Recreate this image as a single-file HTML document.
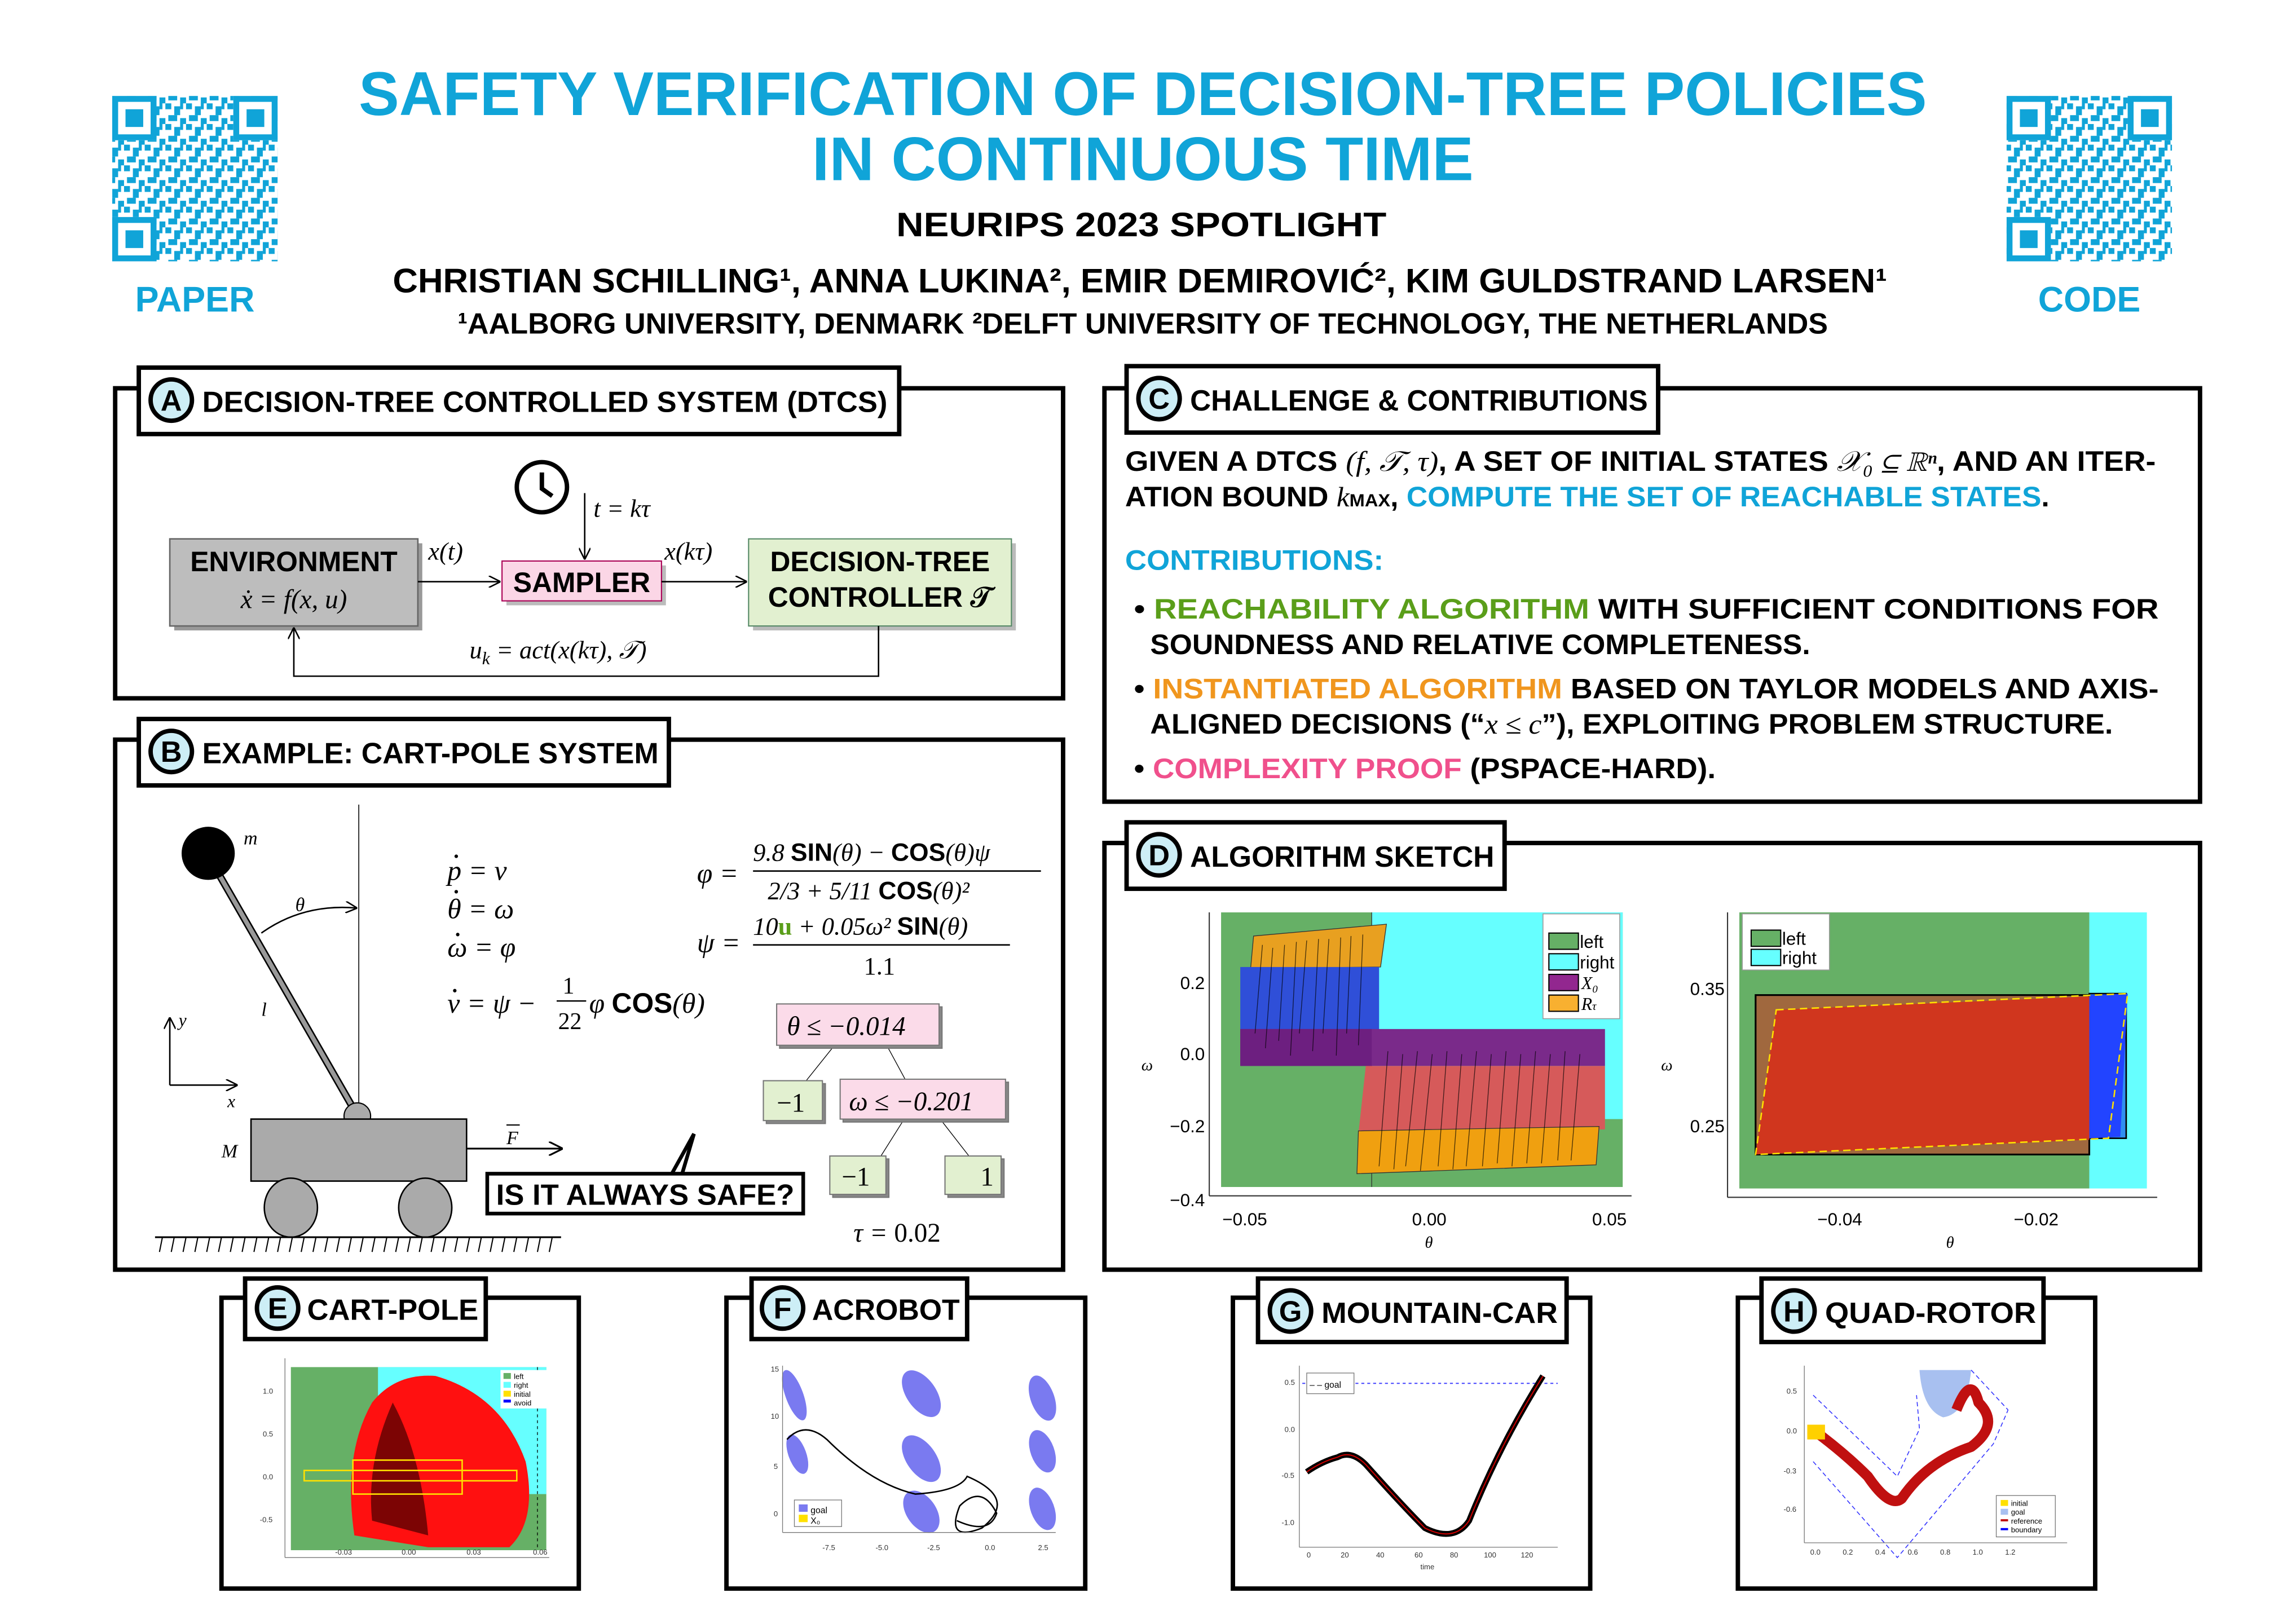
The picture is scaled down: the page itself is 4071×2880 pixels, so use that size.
<!DOCTYPE html>
<html><head><meta charset="utf-8">
<style>
html,body{margin:0;padding:0;background:#fff;}
svg{display:block;}
.c{font-family:"Liberation Sans Narrow","Liberation Sans",sans-serif;font-weight:bold;}
.m{font-family:"Liberation Serif",serif;font-style:italic;}
.s{font-family:"Liberation Sans",sans-serif;}
</style></head>
<body>
<svg width="4071" height="2880" viewBox="0 0 1555 1100" preserveAspectRatio="none" xmlns="http://www.w3.org/2000/svg">
<defs>
<pattern id="qr" x="0" y="0" width="14" height="14" patternUnits="userSpaceOnUse">
<rect x="0" y="0" width="4" height="4" fill="#10a4d8"/><rect x="6" y="2" width="4" height="6" fill="#10a4d8"/>
<rect x="2" y="8" width="6" height="4" fill="#10a4d8"/><rect x="10" y="10" width="4" height="4" fill="#10a4d8"/>
<rect x="10" y="0" width="2" height="4" fill="#10a4d8"/>
</pattern>
<marker id="ar" markerWidth="8" markerHeight="8" refX="7" refY="4" orient="auto"><path d="M0,0 L8,4 L0,8" fill="none" stroke="#000" stroke-width="1"/></marker>
</defs>
<rect width="1555" height="1100" fill="#fff"/>

<!-- QR codes -->
<g>
<rect x="76" y="65" width="112" height="112" fill="url(#qr)"/>
<rect x="76" y="65" width="30" height="30" fill="#fff"/><rect x="78" y="67" width="26" height="26" fill="none" stroke="#10a4d8" stroke-width="4"/><rect x="85" y="74" width="12" height="12" fill="#10a4d8"/>
<rect x="158" y="65" width="30" height="30" fill="#fff"/><rect x="160" y="67" width="26" height="26" fill="none" stroke="#10a4d8" stroke-width="4"/><rect x="167" y="74" width="12" height="12" fill="#10a4d8"/>
<rect x="76" y="147" width="30" height="30" fill="#fff"/><rect x="78" y="149" width="26" height="26" fill="none" stroke="#10a4d8" stroke-width="4"/><rect x="85" y="156" width="12" height="12" fill="#10a4d8"/>
</g>
<g>
<rect x="1359" y="65" width="112" height="112" fill="url(#qr)"/>
<rect x="1359" y="65" width="30" height="30" fill="#fff"/><rect x="1361" y="67" width="26" height="26" fill="none" stroke="#10a4d8" stroke-width="4"/><rect x="1368" y="74" width="12" height="12" fill="#10a4d8"/>
<rect x="1441" y="65" width="30" height="30" fill="#fff"/><rect x="1443" y="67" width="26" height="26" fill="none" stroke="#10a4d8" stroke-width="4"/><rect x="1450" y="74" width="12" height="12" fill="#10a4d8"/>
<rect x="1359" y="147" width="30" height="30" fill="#fff"/><rect x="1361" y="149" width="26" height="26" fill="none" stroke="#10a4d8" stroke-width="4"/><rect x="1368" y="156" width="12" height="12" fill="#10a4d8"/>
</g>
<text class="c" x="132" y="211" font-size="24" fill="#10a4d8" text-anchor="middle">PAPER</text>
<text class="c" x="1415" y="211" font-size="24" fill="#10a4d8" text-anchor="middle">CODE</text>

<!-- Title -->
<text class="c" x="243" y="78" font-size="42" fill="#10a4d8" textLength="1062" lengthAdjust="spacingAndGlyphs">SAFETY VERIFICATION OF DECISION-TREE POLICIES</text>
<text class="c" x="550" y="122" font-size="42" fill="#10a4d8" textLength="448" lengthAdjust="spacingAndGlyphs">IN CONTINUOUS TIME</text>
<text class="c" x="773" y="160" font-size="23" fill="#000" text-anchor="middle" textLength="332" lengthAdjust="spacingAndGlyphs">NEURIPS 2023 SPOTLIGHT</text>
<text class="c" x="266" y="198" font-size="23" fill="#000" textLength="1012" lengthAdjust="spacingAndGlyphs">CHRISTIAN SCHILLING¹, ANNA LUKINA², EMIR DEMIROVIĆ², KIM GULDSTRAND LARSEN¹</text>
<text class="c" x="310" y="226" font-size="20" fill="#000" textLength="928" lengthAdjust="spacingAndGlyphs">¹AALBORG UNIVERSITY, DENMARK    ²DELFT UNIVERSITY OF TECHNOLOGY, THE NETHERLANDS</text>

<!-- Panel boxes -->
<g fill="none" stroke="#000" stroke-width="3">
<rect x="78" y="263" width="642" height="210"/>
<rect x="78" y="501" width="642" height="359"/>
<rect x="748" y="263" width="742" height="280"/>
<rect x="748" y="571" width="742" height="289"/>
<rect x="150" y="879" width="242" height="197"/>
<rect x="492" y="879" width="243" height="197"/>
<rect x="835" y="879" width="242" height="197"/>
<rect x="1177" y="879" width="242" height="197"/>
</g>
<!-- tabs -->
<g fill="#fff" stroke="#000" stroke-width="3">
<rect x="94" y="249" width="515" height="45"/>
<rect x="94" y="487" width="359" height="45"/>
<rect x="763" y="248" width="360" height="45"/>
<rect x="763" y="557" width="256" height="45"/>
<rect x="166" y="866" width="163" height="41"/>
<rect x="509" y="866" width="146" height="41"/>
<rect x="852" y="866" width="209" height="43"/>
<rect x="1193" y="866" width="191" height="43"/>
</g>
<g fill="#cdeef6" stroke="#000" stroke-width="3">
<circle cx="116" cy="271" r="14"/><circle cx="116" cy="509" r="14"/><circle cx="785" cy="270" r="14"/><circle cx="785" cy="579" r="14"/>
<circle cx="188" cy="886" r="14"/><circle cx="530" cy="886" r="14"/><circle cx="874" cy="888" r="14"/><circle cx="1215" cy="888" r="14"/>
</g>
<g class="c" font-size="20" fill="#000">
<text x="116" y="278" text-anchor="middle">A</text><text x="116" y="516" text-anchor="middle">B</text>
<text x="785" y="277" text-anchor="middle">C</text><text x="785" y="586" text-anchor="middle">D</text>
<text x="188" y="893" text-anchor="middle">E</text><text x="530" y="893" text-anchor="middle">F</text>
<text x="874" y="895" text-anchor="middle">G</text><text x="1215" y="895" text-anchor="middle">H</text>
<text x="137" y="279" textLength="464" lengthAdjust="spacingAndGlyphs">DECISION-TREE CONTROLLED SYSTEM (DTCS)</text>
<text x="137" y="517" textLength="309" lengthAdjust="spacingAndGlyphs">EXAMPLE: CART-POLE SYSTEM</text>
<text x="806" y="278" textLength="310" lengthAdjust="spacingAndGlyphs">CHALLENGE &amp; CONTRIBUTIONS</text>
<text x="806" y="587" textLength="206" lengthAdjust="spacingAndGlyphs">ALGORITHM SKETCH</text>
<text x="208" y="894" textLength="116" lengthAdjust="spacingAndGlyphs">CART-POLE</text>
<text x="550" y="894" textLength="100" lengthAdjust="spacingAndGlyphs">ACROBOT</text>
<text x="895" y="896" textLength="160" lengthAdjust="spacingAndGlyphs">MOUNTAIN-CAR</text>
<text x="1236" y="896" textLength="143" lengthAdjust="spacingAndGlyphs">QUAD-ROTOR</text>
</g>

<!-- Panel A -->
<circle cx="367" cy="330" r="17" fill="#fff" stroke="#000" stroke-width="3"/>
<path d="M367,320 L367,331 L374,336" fill="none" stroke="#000" stroke-width="3"/>
<line x1="396" y1="334" x2="396" y2="378" stroke="#000" stroke-width="1" marker-end="url(#ar)"/>
<text class="m" x="402" y="350" font-size="17">t = kτ</text>
<rect x="118" y="368" width="168" height="59" fill="#999"/>
<rect x="115" y="365" width="168" height="59" fill="#bdbdbd" stroke="#666" stroke-width="1"/>
<text class="c" x="199" y="387" font-size="19" text-anchor="middle">ENVIRONMENT</text>
<text class="m" x="199" y="412" font-size="18" text-anchor="middle">ẋ = f(x, u)</text>
<rect x="343" y="383" width="108" height="27" fill="#bbb"/>
<rect x="340" y="380" width="108" height="27" fill="#fbd6e6" stroke="#a05" stroke-width="0.8"/>
<text class="c" x="394" y="401" font-size="19" text-anchor="middle">SAMPLER</text>
<rect x="510" y="368" width="178" height="59" fill="#bbb"/>
<rect x="507" y="365" width="178" height="59" fill="#e2f0d0" stroke="#586" stroke-width="0.8"/>
<text class="c" x="596" y="387" font-size="19" text-anchor="middle">DECISION-TREE</text>
<text class="c" x="596" y="411" font-size="19" text-anchor="middle">CONTROLLER 𝒯</text>
<line x1="283" y1="394" x2="338" y2="394" stroke="#000" stroke-width="1" marker-end="url(#ar)"/>
<line x1="448" y1="394" x2="505" y2="394" stroke="#000" stroke-width="1" marker-end="url(#ar)"/>
<text class="m" x="290" y="379" font-size="17">x(t)</text>
<text class="m" x="450" y="379" font-size="17">x(kτ)</text>
<path d="M595,424 L595,458 L199,458 L199,426" fill="none" stroke="#000" stroke-width="1" marker-end="url(#ar)"/>
<text class="m" x="318" y="446" font-size="17">u<tspan font-size="12" dy="4">k</tspan><tspan dy="-4"> = act(x(kτ), 𝒯)</tspan></text>

<!-- Panel B -->
<line x1="243" y1="545" x2="243" y2="760" stroke="#000" stroke-width="0.6"/>
<line x1="147" y1="590" x2="240" y2="752" stroke="#000" stroke-width="5"/>
<line x1="147" y1="590" x2="240" y2="752" stroke="#999" stroke-width="3"/>
<circle cx="141" cy="578" r="18" fill="#000"/>
<text class="m" x="165" y="572" font-size="13">m</text>
<path d="M177,632 Q205,612 241,615" fill="none" stroke="#000" stroke-width="1" marker-end="url(#ar)"/>
<text class="m" x="200" y="617" font-size="13">θ</text>
<text class="m" x="177" y="688" font-size="13">l</text>
<ellipse cx="242" cy="756" rx="9" ry="9" fill="#aaa" stroke="#000" stroke-width="0.8"/>
<rect x="170" y="758" width="146" height="42" fill="#aaa" stroke="#000" stroke-width="1"/>
<ellipse cx="197" cy="818" rx="18" ry="20" fill="#aaa" stroke="#000" stroke-width="1"/>
<ellipse cx="288" cy="818" rx="18" ry="20" fill="#aaa" stroke="#000" stroke-width="1"/>
<text class="m" x="150" y="784" font-size="13">M</text>
<line x1="316" y1="778" x2="380" y2="778" stroke="#000" stroke-width="1.2" marker-end="url(#ar)"/>
<text class="m" x="343" y="775" font-size="13">F</text><line x1="343" y1="762" x2="352" y2="762" stroke="#000" stroke-width="0.8"/>
<line x1="105" y1="838" x2="380" y2="838" stroke="#000" stroke-width="1.2"/>
<path d="M108,848 L110,838 M116,848 L118,838 M124,848 L126,838 M132,848 L134,838 M140,848 L142,838 M148,848 L150,838 M156,848 L158,838 M164,848 L166,838 M172,848 L174,838 M180,848 L182,838 M188,848 L190,838 M196,848 L198,838 M204,848 L206,838 M212,848 L214,838 M220,848 L222,838 M228,848 L230,838 M236,848 L238,838 M244,848 L246,838 M252,848 L254,838 M260,848 L262,838 M268,848 L270,838 M276,848 L278,838 M284,848 L286,838 M292,848 L294,838 M300,848 L302,838 M308,848 L310,838 M316,848 L318,838 M324,848 L326,838 M332,848 L334,838 M340,848 L342,838 M348,848 L350,838 M356,848 L358,838 M364,848 L366,838 M372,848 L374,838" stroke="#000" stroke-width="0.8"/>
<line x1="115" y1="735" x2="115" y2="690" stroke="#000" stroke-width="1" marker-end="url(#ar)"/>
<line x1="115" y1="735" x2="160" y2="735" stroke="#000" stroke-width="1" marker-end="url(#ar)"/>
<text class="m" x="121" y="695" font-size="12">y</text><text class="m" x="154" y="750" font-size="12">x</text>
<g class="m" font-size="19">
<text x="303" y="596">p = v</text><circle cx="309" cy="580" r="1.2"/>
<text x="303" y="622">θ = ω</text><circle cx="309" cy="604" r="1.2"/>
<text x="303" y="648">ω = φ</text><circle cx="310" cy="633" r="1.2"/>
<text x="303" y="686">v = ψ −</text><circle cx="308" cy="671" r="1.2"/>
<text x="381" y="673" font-size="16" font-style="normal">1</text><line x1="377" y1="678" x2="397" y2="678" stroke="#000"/><text x="378" y="697" font-size="16" font-style="normal">22</text>
<text x="399" y="686">φ <tspan class="c" font-style="normal">COS</tspan>(θ)</text>
<text x="472" y="598">φ =</text>
<text x="510" y="583" font-size="17">9.8 <tspan class="c" font-style="normal">SIN</tspan>(θ) − <tspan class="c" font-style="normal">COS</tspan>(θ)ψ</text>
<line x1="510" y1="590" x2="705" y2="590" stroke="#000"/>
<text x="520" y="609" font-size="17">2/3 + 5/11 <tspan class="c" font-style="normal">COS</tspan>(θ)²</text>
<text x="472" y="645">ψ =</text>
<text x="510" y="633" font-size="17">10<tspan fill="#5a9e1a" font-weight="bold" font-style="normal">u</tspan> + 0.05ω² <tspan class="c" font-style="normal">SIN</tspan>(θ)</text>
<line x1="510" y1="640" x2="684" y2="640" stroke="#000"/>
<text x="585" y="660" font-size="17" font-style="normal">1.1</text>
</g>
<g stroke="#000" stroke-width="0.5"><line x1="566" y1="707" x2="546" y2="732"/><line x1="600" y1="707" x2="613" y2="731"/><line x1="613" y1="757" x2="596" y2="784"/><line x1="636" y1="757" x2="657" y2="784"/></g>
<g stroke="#777" stroke-width="0.8">
<rect x="528" y="682" width="110" height="28" fill="#888"/><rect x="526" y="680" width="110" height="28" fill="#fbdbe9"/>
<rect x="519" y="734" width="40" height="27" fill="#888"/><rect x="517" y="732" width="40" height="27" fill="#e2f0d0"/>
<rect x="571" y="733" width="112" height="27" fill="#888"/><rect x="569" y="731" width="112" height="27" fill="#fbdbe9"/>
<rect x="564" y="785" width="38" height="26" fill="#888"/><rect x="562" y="783" width="38" height="26" fill="#e2f0d0"/>
<rect x="642" y="785" width="38" height="26" fill="#888"/><rect x="640" y="783" width="38" height="26" fill="#e2f0d0"/>
</g>
<g class="m" font-size="18">
<text x="533" y="701">θ ≤ −0.014</text><text x="526" y="753" font-style="normal">−1</text>
<text x="575" y="752">ω ≤ −0.201</text><text x="570" y="803" font-style="normal">−1</text><text x="664" y="803" font-style="normal">1</text>
<text x="578" y="841">τ = <tspan font-style="normal">0.02</tspan></text>
</g>
<path d="M455,795 L470,768 L462,795" fill="#fff" stroke="#000" stroke-width="2.5"/>
<rect x="330" y="795" width="214" height="27" fill="#fff" stroke="#000" stroke-width="2.5"/>
<text class="c" x="437" y="816" font-size="20" text-anchor="middle" textLength="202" lengthAdjust="spacingAndGlyphs">IS IT ALWAYS SAFE?</text>

<!-- Panel C -->
<g class="c" font-size="19">
<text x="762" y="319" textLength="698" lengthAdjust="spacingAndGlyphs">GIVEN A DTCS <tspan class="m" font-weight="normal">(f, 𝒯, τ)</tspan>, A SET OF INITIAL STATES <tspan class="m" font-weight="normal">𝒳₀ ⊆ ℝⁿ</tspan>, AND AN ITER-</text>
<text x="762" y="343" textLength="626" lengthAdjust="spacingAndGlyphs">ATION BOUND <tspan class="m" font-weight="normal">k</tspan><tspan font-size="12">MAX</tspan>, <tspan fill="#10a4d8">COMPUTE THE SET OF REACHABLE STATES</tspan>.</text>
<text x="762" y="386" fill="#10a4d8" textLength="175" lengthAdjust="spacingAndGlyphs">CONTRIBUTIONS:</text>
<text x="768" y="419" textLength="694" lengthAdjust="spacingAndGlyphs">• <tspan fill="#5a9e1a">REACHABILITY  ALGORITHM</tspan>  WITH  SUFFICIENT  CONDITIONS  FOR</text>
<text x="779" y="443" textLength="447" lengthAdjust="spacingAndGlyphs">SOUNDNESS AND RELATIVE COMPLETENESS.</text>
<text x="768" y="473" textLength="694" lengthAdjust="spacingAndGlyphs">• <tspan fill="#f0961e">INSTANTIATED ALGORITHM</tspan> BASED ON TAYLOR MODELS AND AXIS-</text>
<text x="779" y="497" textLength="652" lengthAdjust="spacingAndGlyphs">ALIGNED DECISIONS (“<tspan class="m" font-weight="normal">x ≤ c</tspan>”), EXPLOITING PROBLEM STRUCTURE.</text>
<text x="768" y="527" textLength="394" lengthAdjust="spacingAndGlyphs">• <tspan fill="#f0508c">COMPLEXITY PROOF</tspan> (PSPACE-HARD).</text>
</g>

<!-- Panel D left plot -->
<rect x="827" y="618" width="272" height="186" fill="#66b066"/>
<rect x="929" y="618" width="170" height="140" fill="#66ffff"/>
<line x1="929" y1="618" x2="929" y2="804" stroke="#333" stroke-width="0.5"/>
<polygon points="849,634 939,626 935,655 847,656" fill="#e8a020" stroke="#333" stroke-width="0.5"/>
<rect x="840" y="655" width="94" height="43" fill="#2f4fd8"/>
<rect x="840" y="697" width="247" height="25" fill="#7a2a8a"/>
<polygon points="840,697 929,697 929,722 840,722" fill="#6d1f80"/>
<polygon points="925,722 1087,722 1087,765 920,768" fill="#d65a5a"/>
<polygon points="920,766 1083,763 1081,789 919,795" fill="#f0a010" stroke="#333" stroke-width="0.5"/>
<g stroke="#000" stroke-width="0.5" opacity="0.7">
<path d="M855,640 L850,700 M862,642 L857,710 M870,640 L866,705 M878,638 L874,715 M885,637 L880,700 M893,636 L889,712 M900,636 L896,700 M908,635 L905,715 M915,634 L912,700 M923,633 L920,708"/>
<path d="M940,712 L934,790 M950,714 L944,792 M960,712 L952,790 M970,714 L962,793 M980,712 L974,790 M990,714 L984,792 M1000,712 L993,790 M1010,714 L1004,790 M1020,712 L1014,788 M1030,714 L1024,790 M1040,712 L1034,788 M1050,714 L1044,788 M1060,712 L1055,786 M1070,714 L1064,786"/>
</g>
<rect x="1045" y="619" width="52" height="71" fill="#fff" stroke="#999" stroke-width="0.6"/>
<g stroke="#000" stroke-width="0.8"><rect x="1049" y="632" width="20" height="11" fill="#66b066"/><rect x="1049" y="646" width="20" height="11" fill="#66ffff"/><rect x="1049" y="660" width="20" height="11" fill="#92278f"/><rect x="1049" y="674" width="20" height="11" fill="#f8b030"/></g>
<g class="s" font-size="12"><text x="1070" y="642">left</text><text x="1070" y="656">right</text><text class="m" x="1071" y="670">X₀</text><text class="m" x="1071" y="684">R<tspan font-size="8">τ</tspan></text></g>
<line x1="819" y1="618" x2="819" y2="810" stroke="#333" stroke-width="0.8"/>
<line x1="819" y1="810" x2="1105" y2="810" stroke="#333" stroke-width="0.8"/>
<g class="s" font-size="12" text-anchor="end"><text x="816" y="670">0.2</text><text x="816" y="718">0.0</text><text x="816" y="767">−0.2</text><text x="816" y="817">−0.4</text></g>
<g class="s" font-size="12" text-anchor="middle"><text x="843" y="830">−0.05</text><text x="968" y="830">0.00</text><text x="1090" y="830">0.05</text></g>
<text class="m" x="773" y="725" font-size="11">ω</text><text class="m" x="965" y="845" font-size="11">θ</text>

<!-- Panel D right plot -->
<rect x="1178" y="618" width="237" height="187" fill="#66b066"/>
<rect x="1415" y="618" width="39" height="187" fill="#66ffff"/>
<rect x="1189" y="674" width="226" height="108" fill="#a0683e" stroke="#000" stroke-width="1.2"/>
<rect x="1415" y="673" width="25" height="98" fill="#3090f0" stroke="#000" stroke-width="1"/>
<polygon points="1415,674 1441,673 1436,770 1415,771" fill="#2244ff"/>
<polygon points="1203,684 1415,675 1415,772 1189,782" fill="#d0361e"/>
<polygon points="1203,684 1441,673 1428,771 1189,782" fill="none" stroke="#ffe000" stroke-width="1" stroke-dasharray="5,3"/>
<rect x="1180" y="619" width="59" height="38" fill="#fff" stroke="#999" stroke-width="0.6"/>
<g stroke="#000" stroke-width="0.8"><rect x="1186" y="630" width="20" height="11" fill="#66b066"/><rect x="1186" y="643" width="20" height="11" fill="#66ffff"/></g>
<g class="s" font-size="12"><text x="1207" y="640">left</text><text x="1207" y="653">right</text></g>
<line x1="1170" y1="618" x2="1170" y2="811" stroke="#333" stroke-width="0.8"/>
<line x1="1170" y1="811" x2="1461" y2="811" stroke="#333" stroke-width="0.8"/>
<g class="s" font-size="12" text-anchor="end"><text x="1168" y="674">0.35</text><text x="1168" y="767">0.25</text></g>
<g class="s" font-size="12" text-anchor="middle"><text x="1246" y="830">−0.04</text><text x="1379" y="830">−0.02</text></g>
<text class="m" x="1125" y="725" font-size="11">ω</text><text class="m" x="1318" y="845" font-size="11">θ</text>

<!-- E Cart-pole -->
<rect x="197" y="926" width="173" height="124" fill="#66b066"/>
<rect x="256" y="926" width="114" height="86" fill="#66ffff"/>
<path d="M240,1040 Q232,985 252,950 Q268,930 295,932 Q340,945 356,990 Q364,1030 345,1048 L290,1048 Z" fill="#ff1010"/>
<path d="M252,1030 Q248,990 266,950 Q285,985 290,1040 Z" fill="#400" opacity="0.7"/>
<rect x="206" y="996" width="144" height="7" fill="none" stroke="#ffe000" stroke-width="1"/>
<rect x="239" y="989" width="74" height="23" fill="none" stroke="#ffe000" stroke-width="1"/>
<line x1="364" y1="926" x2="364" y2="1050" stroke="#000" stroke-width="0.5" stroke-dasharray="2,2"/>
<rect x="339" y="928" width="33" height="26" fill="#fff"/>
<g font-size="5" class="s"><rect x="341" y="930" width="5" height="4" fill="#66b066"/><text x="348" y="934">left</text><rect x="341" y="936" width="5" height="4" fill="#66ffff"/><text x="348" y="940">right</text><rect x="341" y="942" width="5" height="4" fill="#ffe000"/><text x="348" y="946">initial</text><rect x="341" y="948" width="5" height="2" fill="#00f"/><text x="348" y="952">avoid</text></g>
<line x1="193" y1="920" x2="193" y2="1055" stroke="#777" stroke-width="0.5"/><line x1="193" y1="1055" x2="372" y2="1055" stroke="#777" stroke-width="0.5"/>
<g class="s" font-size="5" fill="#333"><text x="178" y="944">1.0</text><text x="178" y="973">0.5</text><text x="178" y="1002">0.0</text><text x="176" y="1031">-0.5</text><text x="227" y="1053" dy="0">-0.03</text><text x="272" y="1053">0.00</text><text x="316" y="1053">0.03</text><text x="361" y="1053">0.06</text></g>

<!-- F Acrobot -->
<g fill="#7a7af0">
<ellipse cx="538" cy="945" rx="6" ry="18" transform="rotate(-20 538 945)"/><ellipse cx="624" cy="944" rx="10" ry="18" transform="rotate(-35 624 944)"/><ellipse cx="706" cy="947" rx="8" ry="16" transform="rotate(-20 706 947)"/>
<ellipse cx="540" cy="985" rx="6" ry="14" transform="rotate(-20 540 985)"/><ellipse cx="624" cy="988" rx="10" ry="18" transform="rotate(-35 624 988)"/><ellipse cx="706" cy="983" rx="8" ry="15" transform="rotate(-20 706 983)"/>
<ellipse cx="624" cy="1024" rx="10" ry="16" transform="rotate(-35 624 1024)"/><ellipse cx="706" cy="1022" rx="8" ry="15" transform="rotate(-20 706 1022)"/>
</g>
<path d="M533,975 Q545,962 560,975 Q590,1005 620,1012 Q650,1010 655,1000 Q690,1015 665,1035 Q640,1045 650,1020 Q665,1005 675,1025 Q670,1040 648,1030" fill="none" stroke="#000" stroke-width="1"/>
<rect x="538" y="1016" width="32" height="18" fill="#fff" stroke="#777" stroke-width="0.5"/>
<rect x="541" y="1019" width="6" height="5" fill="#7a7af0"/><rect x="541" y="1026" width="6" height="5" fill="#ffe000"/>
<g class="s" font-size="6"><text x="549" y="1025">goal</text><text x="549" y="1032">X₀</text></g>
<line x1="530" y1="925" x2="530" y2="1038" stroke="#777" stroke-width="0.5"/><line x1="530" y1="1038" x2="715" y2="1038" stroke="#777" stroke-width="0.5"/>
<g class="s" font-size="5" fill="#333"><text x="522" y="929">15</text><text x="522" y="961">10</text><text x="524" y="995">5</text><text x="524" y="1027">0</text><text x="557" y="1050">-7.5</text><text x="593" y="1050">-5.0</text><text x="628" y="1050">-2.5</text><text x="667" y="1050">0.0</text><text x="703" y="1050">2.5</text></g>

<!-- G Mountain car -->
<line x1="882" y1="937" x2="1055" y2="937" stroke="#44f" stroke-width="0.8" stroke-dasharray="2,2"/>
<path d="M885,997 Q895,990 906,987 Q915,982 925,992 Q950,1020 965,1035 Q985,1045 995,1030 Q1015,980 1045,932" fill="none" stroke="#000" stroke-width="4"/>
<path d="M885,997 Q895,990 906,987 Q915,982 925,992 Q950,1020 965,1035 Q985,1045 995,1030 Q1015,980 1045,932" fill="none" stroke="#c00" stroke-width="0.8"/>
<rect x="885" y="930" width="32" height="14" fill="#fff" stroke="#777" stroke-width="0.5"/>
<g class="s" font-size="6"><text x="887" y="940">– – goal</text></g>
<line x1="880" y1="925" x2="880" y2="1048" stroke="#777" stroke-width="0.5"/><line x1="880" y1="1048" x2="1055" y2="1048" stroke="#777" stroke-width="0.5"/>
<g class="s" font-size="5" fill="#333"><text x="870" y="938">0.5</text><text x="870" y="970">0.0</text><text x="868" y="1001">-0.5</text><text x="868" y="1033">-1.0</text><text x="885" y="1055">0</text><text x="908" y="1055">20</text><text x="932" y="1055">40</text><text x="958" y="1055">60</text><text x="982" y="1055">80</text><text x="1005" y="1055">100</text><text x="1030" y="1055">120</text><text x="962" y="1063">time</text></g>

<!-- H Quadrotor -->
<path d="M1300,928 L1335,928 Q1332,958 1316,960 Q1302,955 1300,928 Z" fill="#a8c0f0"/>
<g stroke="#33f" stroke-width="0.6" stroke-dasharray="3,2" fill="none">
<path d="M1228,945 L1285,1000 L1300,968 L1298,945"/><path d="M1228,990 L1285,1055 L1350,978 L1360,955"/><path d="M1335,928 L1360,955"/>
</g>
<path d="M1230,970 Q1250,985 1265,1000 Q1280,1022 1288,1015 Q1305,990 1335,980 Q1355,965 1340,950 Q1335,930 1325,955" fill="none" stroke="#c01010" stroke-width="7" stroke-linejoin="round"/>
<rect x="1224" y="965" width="12" height="10" fill="#ffd000"/>
<rect x="1352" y="1013" width="40" height="28" fill="#fff" stroke="#777" stroke-width="0.5"/>
<g class="s" font-size="5"><rect x="1355" y="1016" width="5" height="4" fill="#ffe000"/><text x="1362" y="1020">initial</text><rect x="1355" y="1022" width="5" height="4" fill="#a8c0f0"/><text x="1362" y="1026">goal</text><rect x="1355" y="1029" width="5" height="1.5" fill="#c01010"/><text x="1362" y="1032">reference</text><rect x="1355" y="1035" width="5" height="1.5" fill="#00f"/><text x="1362" y="1038">boundary</text></g>
<line x1="1222" y1="925" x2="1222" y2="1045" stroke="#777" stroke-width="0.5"/><line x1="1222" y1="1045" x2="1400" y2="1045" stroke="#777" stroke-width="0.5"/>
<g class="s" font-size="5" fill="#333"><text x="1210" y="944">0.5</text><text x="1210" y="971">0.0</text><text x="1208" y="998">-0.3</text><text x="1208" y="1024">-0.6</text><text x="1226" y="1053">0.0</text><text x="1248" y="1053">0.2</text><text x="1270" y="1053">0.4</text><text x="1292" y="1053">0.6</text><text x="1314" y="1053">0.8</text><text x="1336" y="1053">1.0</text><text x="1358" y="1053">1.2</text></g>
</svg>
</body></html>
